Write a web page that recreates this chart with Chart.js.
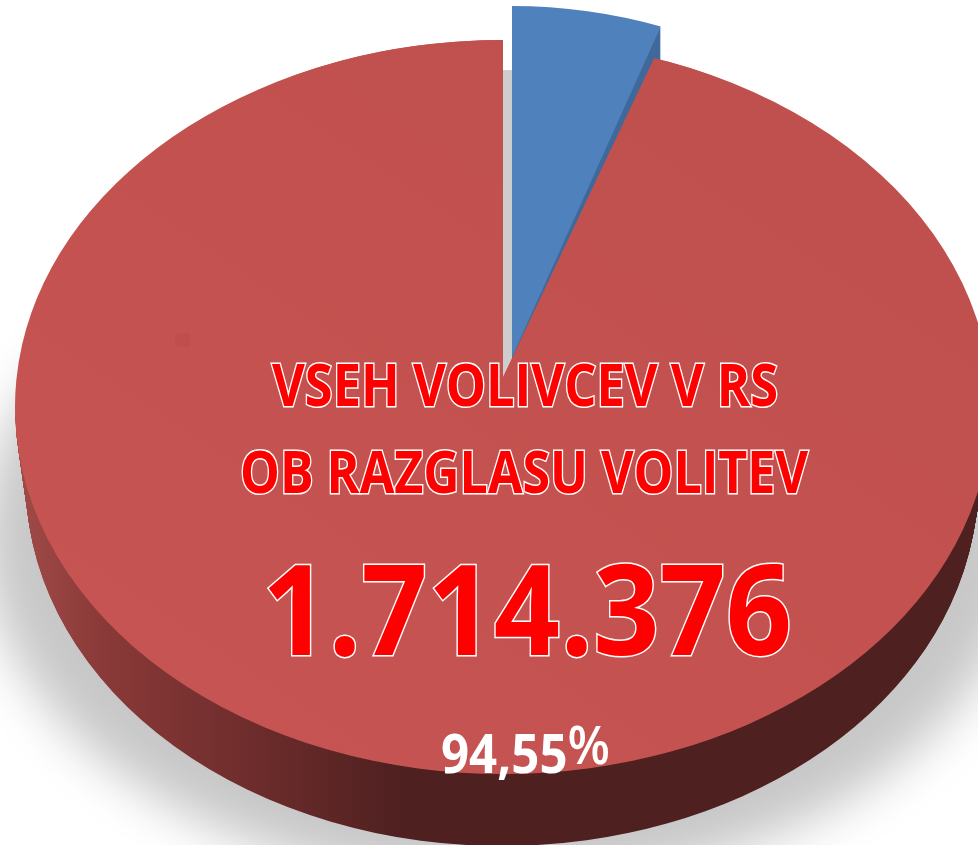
<!DOCTYPE html>
<html>
<head>
<meta charset="utf-8">
<script src="https://cdn.jsdelivr.net/npm/chart.js@4/dist/chart.umd.min.js"></script>
<style>
    html, body { margin: 0; padding: 0; background: #fff; overflow: hidden; }
    #wrap { position: relative; width: 978px; height: 845px; overflow: hidden; }
    #chartPie { position: absolute; left: 0; top: 0; }
    .txt {
        position: absolute; white-space: nowrap; line-height: 1; font-family: "Open Sans", sans-serif;
        font-weight: 700; transform-origin: left top;
    }
    .rojo { color: #ff0000; -webkit-text-stroke: 3px #fff; paint-order: stroke fill; }
    #t1 { left: 272px; top: 354px; font-size: 59px; }
    #t2 { left: 240px; top: 441px; font-size: 59px; }
    #t3 { left: 262px; top: 543px; font-size: 126px; }
    #t4 { left: 441px; top: 726px; font-size: 53px; color: #fff; }
    #t4 span { position: relative; top: -9px; font-weight: 600; }
</style>
</head>
<body>
<div id="wrap">
    <canvas id="chartPie" width="978" height="845"></canvas>
    <div class="txt rojo" id="t1" data-w="506">VSEH VOLIVCEV V RS</div>
    <div class="txt rojo" id="t2" data-w="568">OB RAZGLASU VOLITEV</div>
    <div class="txt rojo" id="t3" data-w="530">1.714.376</div>
    <div class="txt" id="t4" data-w="169">94,55<span>%</span></div>
</div>
<script>
const categorias = ['5,45%', '94,55%'];
const valores = [5.45, 94.55];
const colores = ['#4f81bd', '#c2524f'];

// --- Copia de un sector con otro color (mismos angulos que calcula Chart.js) ---
function copiaSector(arc, color) {
    return new Chart.ArcElement({
        x: arc.x, y: arc.y, startAngle: arc.startAngle, endAngle: arc.endAngle,
        innerRadius: 0, outerRadius: arc.outerRadius, circumference: arc.circumference,
        options: { backgroundColor: color, borderColor: color, borderWidth: 0, borderRadius: 0, offset: 0, spacing: 0, circular: true, borderAlign: 'center' }
    });
}

// Dibuja el sector como elipse: centro (cx, cy), radios rx y ry
// color puede ser una funcion: recibe el paso de pantalla a coordenadas del sector
function sello(ctx, arc, color, cx, cy, rx, ry) {
    const sx = rx / arc.outerRadius, sy = ry / arc.outerRadius;
    const ox = cx - arc.x * sx, oy = cy - arc.y * sy;
    const relleno = typeof color === 'function' ? color(x => (x - ox) / sx, y => (y - oy) / sy) : color;
    ctx.save();
    ctx.translate(ox, oy);
    ctx.scale(sx, sy);
    copiaSector(arc, relleno).draw(ctx);
    ctx.restore();
}

const pastel3d = {
    id: 'pastel3d',
    beforeDatasetsDraw(chart) {
        const ctx = chart.ctx;
        const [azul, rojo] = chart.getDatasetMeta(0).data;

        // Sombra difusa (la forma queda fuera del canvas, solo se ve su sombra)
        ctx.save();
        ctx.shadowColor = '#c8c8c8'; ctx.shadowBlur = 50; ctx.shadowOffsetX = 3000;
        [azul, rojo].forEach(a => sello(ctx, a, '#000', 503 - 3000, 537, 520, 349));
        ctx.restore();
        [azul, rojo].forEach(a => sello(ctx, a, '#cdcdcd', 503, 440, 470, 370));

        // Pared lateral
        const pared = (ux) => {
            const g = ctx.createLinearGradient(ux(20), 0, ux(404), 0);
            g.addColorStop(0, '#a04a48');
            g.addColorStop(0.21, '#8a3a38');
            g.addColorStop(0.47, '#773130');
            g.addColorStop(0.75, '#622827');
            g.addColorStop(1, '#4e2020');
            return g;
        };
        ctx.save();
        ctx.beginPath(); ctx.rect(0, 415, 978, 430); ctx.clip();
        for (let i = 76; i > 0; i--) {
            const t = i / 76;
            sello(ctx, rojo, pared, 503 - t, 407 + 76 * t, 488 - 12 * t, 367 - 4 * t);
        }
        ctx.restore();

        // Pared del sector azul separado
        for (let d = 32; d > 0; d -= 2) sello(ctx, azul, '#40699b', 512, 357 + d, 443, 351);

        // Cara superior: la segunda pasada corrige el vertice (perspectiva)
        const cara = (ux, uy) => {
            const g = ctx.createLinearGradient(ux(800), uy(150), ux(150), uy(700));
            g.addColorStop(0, '#c0504d');
            g.addColorStop(1, '#c65452');
            return g;
        };
        sello(ctx, rojo, cara, 503, 407, 488, 367);
        ctx.save();
        ctx.beginPath(); ctx.ellipse(503, 407, 488, 367, 0, 0, Math.PI * 2); ctx.clip();
        sello(ctx, rojo, cara, 503, 377, 452, 340);
        ctx.restore();
        ctx.fillStyle = '#bf4e4c';
        ctx.fillRect(175, 333, 15, 14);

        sello(ctx, azul, colores[0], 512, 357, 443, 351);
        return false;
    }
};

new Chart(document.getElementById('chartPie').getContext('2d'), {
    type: 'pie',
    data: { labels: categorias, datasets: [{ data: valores, backgroundColor: colores, borderWidth: 0, radius: 300 }] },
    options: {
        responsive: false, animation: false,
        plugins: { legend: { display: false }, tooltip: { enabled: false } }
    },
    plugins: [pastel3d]
});

// Ajuste del ancho de los textos
document.querySelectorAll('.txt').forEach(el => {
    el.style.transform = 'scaleX(' + (el.dataset.w / el.getBoundingClientRect().width) + ')';
});
</script>
</body>
</html>
